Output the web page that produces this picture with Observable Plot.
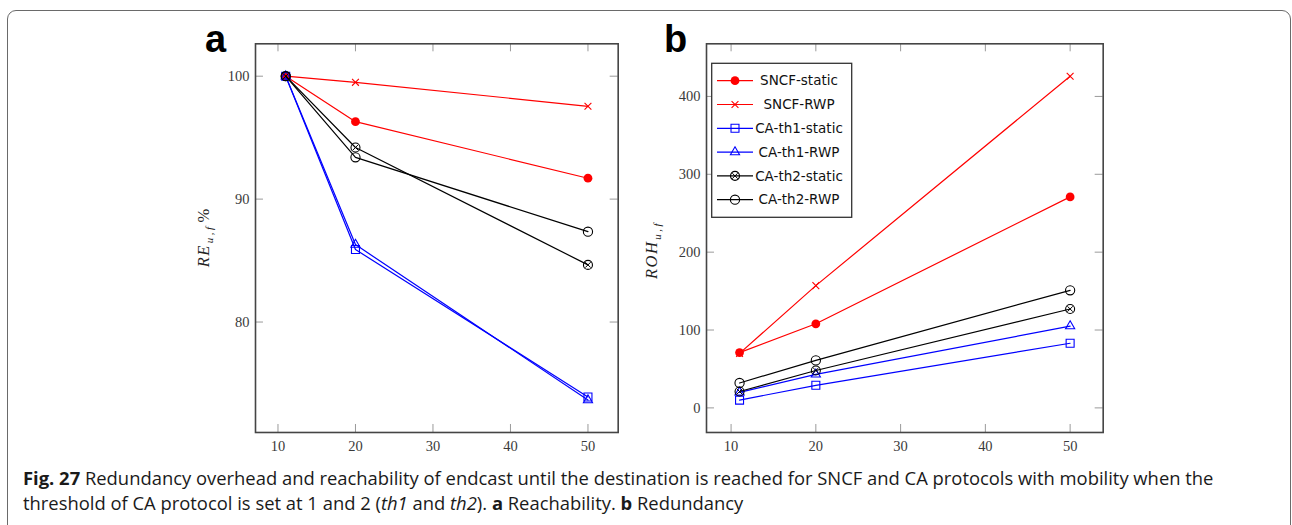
<!DOCTYPE html>
<html><head><meta charset="utf-8">
<script src="https://cdn.jsdelivr.net/npm/d3@7"></script>
<script src="https://cdn.jsdelivr.net/npm/@observablehq/plot@0.6"></script>
<style>
body{margin:0;background:#fff;}
#root{position:relative;width:1292px;height:525px;overflow:hidden;background:#fff;}
#border{position:absolute;left:7px;top:10px;width:1284px;height:600px;border:1.5px solid #6a6a6a;border-radius:9px;box-sizing:border-box;}
.panel{position:absolute;}
#overlay{position:absolute;left:0;top:0;pointer-events:none;}
#caption{position:absolute;left:23px;top:465px;font-family:"Open Sans",sans-serif;font-size:18.4px;line-height:25px;white-space:nowrap;color:#1a1a1a;}
</style></head>
<body><div id="root">
<div id="border"></div>
<div id="pa" class="panel"></div>
<div id="pb" class="panel"></div>
<div id="caption"><b>Fig. 27</b> Redundancy overhead and reachability of endcast until the destination is reached for SNCF and CA protocols with mobility when the<br>threshold of CA protocol is set at 1 and 2 (<i>th1</i> and <i>th2</i>). <b>a</b> Reachability. <b>b</b> Redundancy</div>
</div>
<script>
// ---- data ----
const xs = [11, 20, 50];
const seriesNames = ["SNCF-static", "SNCF-RWP", "CA-th1-static", "CA-th1-RWP", "CA-th2-static", "CA-th2-RWP"];
const xTicks = [10, 20, 30, 40, 50];
const reTicks = [80, 90, 100];
const rohTicks = [0, 100, 200, 300, 400];
// panel a: reachability RE_{u,f} %
const reSNCFstatic = [100, 96.3, 91.7];
const reSNCFrwp    = [100, 99.5, 97.55];
const reTh1static  = [100, 85.9, 73.9];
const reTh1rwp     = [100, 86.3, 73.65];
const reTh2static  = [100, 94.2, 84.65];
const reTh2rwp     = [100, 93.4, 87.35];
// panel b: redundancy ROH_{u,f}
const rohSNCFstatic = [71, 108, 271];
const rohSNCFrwp    = [70, 157, 426];
const rohTh1static  = [10, 29, 83];
const rohTh1rwp     = [20, 43, 105];
const rohTh2static  = [21, 48, 127];
const rohTh2rwp     = [32, 61, 151];

// ---- styles ----
const styles = [
  {color: "#ff0000", sym: "circle", fill: "#ff0000", r: 4.4},
  {color: "#ff0000", sym: "times", fill: "none", r: 3.2},
  {color: "#0000ff", sym: "square", fill: "none", r: 4.5},
  {color: "#0000ff", sym: "triangle", fill: "none", r: 3.4},
  {color: "#000000", sym: "circle", fill: "none", r: 4.5, inner: true},
  {color: "#000000", sym: "circle", fill: "none", r: 4.6}
];

function makeRows(ys) {
  const rows = [];
  seriesNames.forEach((s, i) => xs.forEach((x, j) => rows.push({series: s, idx: i, x, y: ys[i][j]})));
  return rows;
}
function padded(vals) {
  const [a, b] = d3.extent(vals); const p = (b - a) * 0.1; return [a - p, b + p];
}

function panel(el, ys, yTicks, o) {
  const rows = makeRows(ys);
  const {frameW, frameH, ml, mt, mr, mb} = o;
  const marks = [
    Plot.tickX(xTicks, {x: d => d, insetTop: frameH - 8, stroke: "#9a9a9a", strokeWidth: 1}),
    Plot.tickX(xTicks, {x: d => d, insetBottom: frameH - 8, stroke: "#9a9a9a", strokeWidth: 1}),
    Plot.tickY(yTicks, {y: d => d, insetRight: frameW - 8, stroke: "#9a9a9a", strokeWidth: 1}),
    Plot.tickY(yTicks, {y: d => d, insetLeft: frameW - 8, stroke: "#9a9a9a", strokeWidth: 1}),
    Plot.axisX({ticks: xTicks, tickSize: 0, tickPadding: 8, label: null}),
    Plot.axisY({ticks: yTicks, tickSize: 0, tickPadding: 6, label: null})
  ];
  seriesNames.forEach((s, i) => {
    const st = styles[i];
    const d = rows.filter(r => r.idx === i);
    marks.push(Plot.line(d, {x: "x", y: "y", stroke: st.color, strokeWidth: 1.2}));
    marks.push(Plot.dot(d, {x: "x", y: "y", symbol: st.sym, r: st.r, fill: st.fill, stroke: st.fill === "none" ? st.color : "none", strokeWidth: 1.1}));
    if (st.inner) marks.push(Plot.dot(d, {x: "x", y: "y", symbol: "times", r: 2.6, stroke: st.color, strokeWidth: 1}));
  });
  marks.push(Plot.frame({stroke: "#454545", strokeWidth: 1.6}));
  const svg = Plot.plot({
    width: ml + frameW + mr, height: mt + frameH + mb,
    marginLeft: ml, marginRight: mr, marginTop: mt, marginBottom: mb,
    x: {domain: padded(xs)},
    y: {domain: padded(ys.flat())},
    style: {fontFamily: "'Liberation Serif', serif", fontSize: "14.5px", color: "#3a3a3a", background: "transparent"},
    marks
  });
  el.appendChild(svg);
  el.style.left = o.left + "px"; el.style.top = o.top + "px";
}

panel(document.getElementById("pa"),
  [reSNCFstatic, reSNCFrwp, reTh1static, reTh1rwp, reTh2static, reTh2rwp], reTicks,
  {frameW: 362.7, frameH: 388.7, ml: 65, mt: 23.3, mr: 10, mb: 30, left: 190, top: 20});
panel(document.getElementById("pb"),
  [rohSNCFstatic, rohSNCFrwp, rohTh1static, rohTh1rwp, rohTh2static, rohTh2rwp], rohTicks,
  {frameW: 396.7, frameH: 388.7, ml: 46, mt: 23.3, mr: 10, mb: 30, left: 660, top: 20});

// ---- overlay: panel letters, axis titles, legend ----
const ov = d3.select("#root").append("svg").attr("id", "overlay").attr("width", 1292).attr("height", 525);
ov.append("text").attr("x", 205).attr("y", 52).attr("font-family", "'Liberation Sans', Arial, sans-serif")
  .attr("font-weight", "bold").attr("font-size", 38).text("a");
ov.append("text").attr("x", 664).attr("y", 52).attr("font-family", "'Liberation Sans', Arial, sans-serif")
  .attr("font-weight", "bold").attr("font-size", 38).text("b");

function yTitle(x, y, main, tail) {
  const t = ov.append("text").attr("transform", `translate(${x},${y}) rotate(-90)`)
    .attr("text-anchor", "middle").attr("font-family", "'Liberation Serif', serif").attr("font-size", 16.5).attr("fill", "#222");
  t.append("tspan").attr("font-style", "italic").attr("letter-spacing", 1.5).text(main);
  t.append("tspan").attr("font-style", "italic").attr("font-size", 11).attr("dy", 3.5).attr("dx", 1).attr("letter-spacing", 2.5).text("u,f");
  if (tail) t.append("tspan").attr("dy", -3.5).attr("dx", 2).text(tail);
}
yTitle(209, 238, "RE", "%");
yTitle(657, 250, "ROH", null);

const lg = ov.append("g");
lg.append("rect").attr("x", 711.7).attr("y", 63.3).attr("width", 140).attr("height", 154)
  .attr("fill", "#fff").attr("stroke", "#333").attr("stroke-width", 1.3);
seriesNames.forEach((s, i) => {
  const st = styles[i];
  const y = 80.7 + i * 23.8;
  lg.append("line").attr("x1", 717).attr("x2", 753).attr("y1", y).attr("y2", y).attr("stroke", st.color).attr("stroke-width", 1.2);
  const symMap = {circle: d3.symbolCircle, times: d3.symbolTimes, square: d3.symbolSquare, triangle: d3.symbolTriangle};
  const size = Math.PI * st.r * st.r;
  lg.append("path").attr("transform", `translate(735,${y})`).attr("d", d3.symbol(symMap[st.sym], size)())
    .attr("fill", st.fill).attr("stroke", st.fill === "none" ? st.color : "none").attr("stroke-width", 1.1);
  if (st.inner) lg.append("path").attr("transform", `translate(735,${y})`).attr("d", d3.symbol(d3.symbolTimes, Math.PI * 2.6 * 2.6)())
    .attr("fill", "none").attr("stroke", st.color).attr("stroke-width", 1);
  lg.append("text").attr("x", 799).attr("y", y).attr("dy", "0.35em").attr("text-anchor", "middle")
    .attr("font-family", "'DejaVu Sans', sans-serif").attr("font-size", 13.5).attr("fill", "#111").text(s);
});
</script>
</body></html>
